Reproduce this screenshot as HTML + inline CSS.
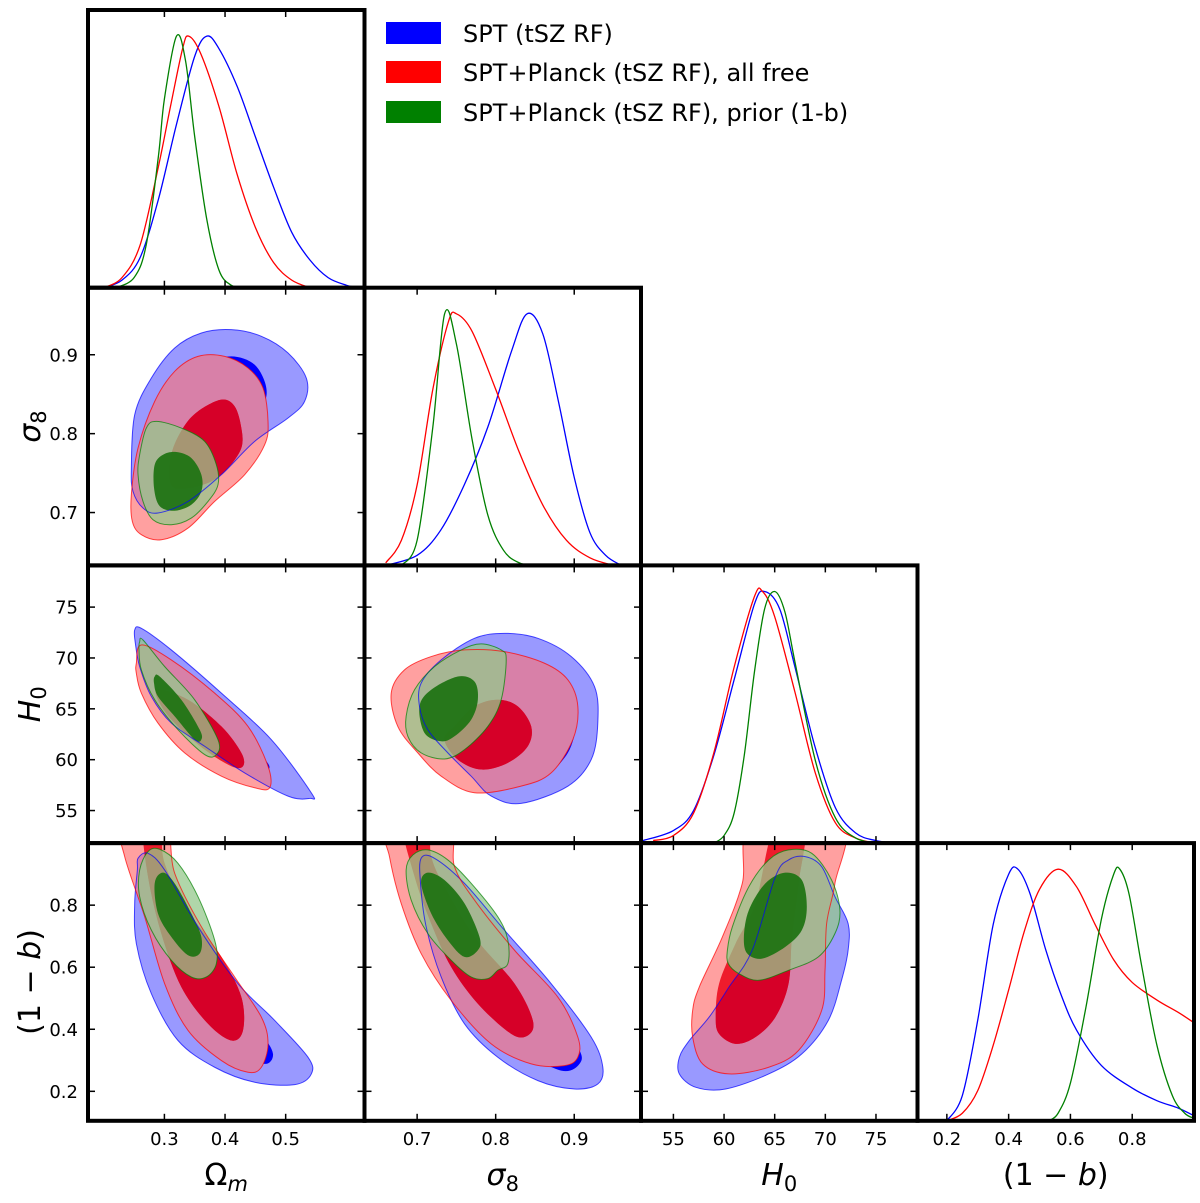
<!DOCTYPE html>
<html><head><meta charset="utf-8"><style>
html,body{margin:0;padding:0;background:#fff;}
svg{display:block;font-family:"DejaVu Sans","Liberation Sans",sans-serif;}
</style></head><body>
<svg id="fig" width="1200" height="1203" viewBox="0 0 1200 1203" xmlns="http://www.w3.org/2000/svg">
<g>
<rect x="386" y="22" width="55" height="22" fill="#0000ff"/>
<text x="463" y="42" font-size="24">SPT (tSZ RF)</text>
<rect x="386" y="61" width="55" height="22" fill="#ff0000"/>
<text x="463" y="81" font-size="24">SPT+Planck (tSZ RF), all free</text>
<rect x="386" y="101" width="55" height="22" fill="#008000"/>
<text x="463" y="121" font-size="24">SPT+Planck (tSZ RF), prior (1-b)</text>
</g>
</svg>
<script>
// ---- axis data ----
const params = ['om','s8','H0','b'];
const rangeOm = [0.174, 0.63];
const rangeS8 = [0.633, 0.985];
const rangeH0 = [51.8, 79.1];
const rangeB = [0.105, 1.0];
const ticksOm = [0.3, 0.4, 0.5];
const ticksS8 = [0.7, 0.8, 0.9];
const ticksH0 = [55, 60, 65, 70, 75];
const ticksB = [0.2, 0.4, 0.6, 0.8];
const tickLabelsOm = ['0.3','0.4','0.5'];
const tickLabelsS8 = ['0.7','0.8','0.9'];
const tickLabelsH0 = ['55','60','65','70','75'];
const tickLabelsB = ['0.2','0.4','0.6','0.8'];
const seriesColors = ['#0000ff','#ff0000','#008000'];
const seriesNames = ['spt','spt-planck-free','spt-planck-prior'];

// ---- 1D marginal densities [value, density] ----
const D_om_blue = [[0.20,0],[0.23,0.03],[0.26,0.12],[0.29,0.35],[0.32,0.65],[0.35,0.92],[0.37,1.0],[0.39,0.95],[0.42,0.8],[0.45,0.6],[0.48,0.4],[0.51,0.22],[0.54,0.11],[0.57,0.04],[0.60,0.01],[0.62,0]];
const D_om_red = [[0.20,0],[0.23,0.04],[0.26,0.17],[0.29,0.48],[0.31,0.72],[0.33,0.95],[0.34,1.0],[0.36,0.93],[0.39,0.72],[0.42,0.45],[0.45,0.24],[0.48,0.1],[0.51,0.03],[0.54,0]];
const D_om_green = [[0.22,0],[0.25,0.04],[0.27,0.17],[0.29,0.52],[0.30,0.75],[0.32,1.0],[0.335,0.9],[0.35,0.6],[0.37,0.27],[0.39,0.07],[0.41,0.01],[0.43,0]];
const D_s8_blue = [[0.66,0],[0.70,0.04],[0.73,0.14],[0.76,0.32],[0.79,0.55],[0.82,0.85],[0.84,1.0],[0.86,0.92],[0.88,0.65],[0.90,0.35],[0.92,0.13],[0.94,0.04],[0.96,0]];
const D_s8_red = [[0.66,0.01],[0.68,0.1],[0.70,0.32],[0.72,0.7],[0.74,0.97],[0.75,1.0],[0.77,0.93],[0.80,0.7],[0.83,0.45],[0.86,0.24],[0.89,0.1],[0.92,0.03],[0.95,0]];
const D_s8_green = [[0.68,0],[0.70,0.1],[0.72,0.55],[0.735,1.0],[0.75,0.88],[0.77,0.5],[0.79,0.2],[0.81,0.06],[0.83,0.01],[0.85,0]];
const D_H0_blue = [[52,0.01],[55,0.05],[57,0.13],[59,0.35],[61,0.65],[63,0.95],[64,1.0],[65.5,0.93],[67,0.7],[69,0.38],[71,0.14],[73,0.04],[75,0.01],[77,0]];
const D_H0_red = [[53,0.01],[55,0.03],[57,0.12],[59,0.36],[61,0.7],[63,0.98],[63.8,1.0],[65,0.9],[67,0.6],[69,0.28],[71,0.08],[73,0.02],[75,0]];
const D_H0_green = [[59,0],[60,0.03],[61,0.12],[62,0.35],[63,0.68],[64,0.93],[65,1.0],[66,0.92],[67,0.72],[69,0.33],[71,0.1],[73,0.02],[75,0]];
const D_b_blue = [[0.20,0],[0.25,0.1],[0.30,0.4],[0.35,0.78],[0.40,0.98],[0.43,1.0],[0.47,0.9],[0.52,0.68],[0.57,0.5],[0.62,0.36],[0.70,0.22],[0.80,0.13],[0.88,0.08],[0.95,0.05],[1.0,0.02]];
const D_b_red = [[0.20,0],[0.25,0.03],[0.30,0.12],[0.35,0.3],[0.40,0.52],[0.45,0.75],[0.50,0.92],[0.56,1.0],[0.62,0.93],[0.68,0.78],[0.74,0.64],[0.80,0.55],[0.88,0.48],[0.95,0.43],[1.0,0.39]];
const D_b_green = [[0.53,0],[0.56,0.03],[0.60,0.15],[0.65,0.45],[0.70,0.8],[0.74,0.98],[0.76,1.0],[0.79,0.9],[0.83,0.62],[0.88,0.3],[0.93,0.1],[0.97,0.03],[1.0,0.01]];

// ---- 2D contours [x, y] in data units ----
const C_om_s8_blue_o = [[0.2455,0.7564],[0.251,0.824],[0.2785,0.8705],[0.317,0.9086],[0.361,0.9276],[0.4104,0.9318],[0.4599,0.9234],[0.5039,0.9022],[0.534,0.8705],[0.5313,0.841],[0.5039,0.8198],[0.4489,0.7902],[0.394,0.748],[0.339,0.7141],[0.2894,0.6994],[0.2647,0.7057],[0.2482,0.7268]];
const C_om_s8_blue_i = [[0.339,0.8452],[0.3719,0.8874],[0.4104,0.898],[0.4489,0.8874],[0.4681,0.8579],[0.4599,0.8325],[0.4214,0.7987],[0.3829,0.7649],[0.3444,0.748],[0.3224,0.7649],[0.3224,0.8071]];
const C_om_s8_red_o = [[0.2455,0.7226],[0.2565,0.7818],[0.284,0.8409],[0.317,0.879],[0.3554,0.898],[0.3994,0.898],[0.4379,0.8832],[0.4626,0.8579],[0.4709,0.8156],[0.4654,0.786],[0.4324,0.748],[0.3829,0.7141],[0.339,0.6803],[0.295,0.6655],[0.262,0.6719],[0.2471,0.6888]];
const C_om_s8_red_i = [[0.3307,0.8071],[0.3554,0.8283],[0.3939,0.8431],[0.4159,0.8346],[0.4269,0.8071],[0.4269,0.7818],[0.4049,0.7564],[0.3774,0.7395],[0.339,0.7311],[0.3114,0.7353],[0.3114,0.7733]];
const C_om_s8_green_o = [[0.2592,0.7733],[0.2702,0.8071],[0.2867,0.8156],[0.3279,0.8071],[0.3664,0.7902],[0.3857,0.7606],[0.3884,0.7353],[0.3719,0.7141],[0.3444,0.693],[0.3114,0.6846],[0.2812,0.6909],[0.2647,0.7141],[0.2565,0.748]];
const C_om_s8_green_i = [[0.284,0.7606],[0.2977,0.7733],[0.3197,0.7767],[0.3444,0.7691],[0.3609,0.748],[0.3609,0.7268],[0.3444,0.7099],[0.317,0.7023],[0.2922,0.7081],[0.2829,0.7311]];

const C_om_H0_blue_o = [[0.251,72.75],[0.262,72.91],[0.3114,70.79],[0.394,66.54],[0.4764,61.97],[0.5423,56.74],[0.5396,56.19],[0.5039,56.42],[0.4324,58.7],[0.3664,61.32],[0.3114,63.6],[0.2785,66.21],[0.2592,69.15],[0.2521,71.44]];
const C_om_H0_blue_i = [[0.284,68.18],[0.339,65.89],[0.4049,62.95],[0.4654,60.01],[0.4709,59.03],[0.4489,59.36],[0.394,61.32],[0.3334,63.6],[0.2894,65.89],[0.2812,67.52]];
const C_om_H0_red_o = [[0.2537,69.48],[0.262,71.28],[0.3114,69.81],[0.3829,66.54],[0.4379,63.27],[0.4709,59.36],[0.4736,57.24],[0.4489,57.24],[0.394,58.38],[0.3334,60.67],[0.2894,63.6],[0.262,66.54],[0.2537,68.5]];
const C_om_H0_red_i = [[0.2894,66.87],[0.339,65.89],[0.394,63.27],[0.4269,60.67],[0.4296,59.36],[0.4104,59.36],[0.3664,60.99],[0.317,63.6],[0.2922,65.56]];
const C_om_H0_green_o = [[0.2592,71.6],[0.2647,71.77],[0.3004,69.16],[0.3499,65.89],[0.3884,61.97],[0.3857,60.5],[0.3664,60.5],[0.3224,62.95],[0.284,65.89],[0.262,68.83],[0.2581,70.79]];
const C_om_H0_green_i = [[0.284,68.18],[0.2922,68.18],[0.3279,65.89],[0.3582,62.95],[0.3609,61.97],[0.3499,61.97],[0.317,64.26],[0.2894,66.21],[0.2829,67.52]];

const C_s8_H0_blue_o = [[0.7051,67.52],[0.7306,69.81],[0.773,71.93],[0.8112,72.42],[0.8537,71.93],[0.8961,70.14],[0.9258,67.19],[0.93,63.6],[0.9216,60.01],[0.8919,57.4],[0.8324,55.7],[0.7943,56.42],[0.7688,58.38],[0.7391,60.67],[0.7136,62.95],[0.703,65.24]];
const C_s8_H0_blue_i = [[0.7476,64.91],[0.773,67.19],[0.824,68.34],[0.8706,68.18],[0.9003,65.89],[0.9025,63.6],[0.8919,60.67],[0.8622,58.55],[0.8155,58.38],[0.773,60.67],[0.7497,62.95]];
const C_s8_H0_red_o = [[0.667,66.54],[0.6839,68.83],[0.7179,70.14],[0.7603,70.79],[0.8112,70.62],[0.8622,69.48],[0.8919,67.85],[0.9046,65.24],[0.8982,61.97],[0.8706,58.7],[0.8324,57.4],[0.773,56.75],[0.7306,58.38],[0.7009,60.67],[0.6754,63.27]];
const C_s8_H0_red_i = [[0.7348,61.97],[0.7476,63.27],[0.773,65.24],[0.8027,65.89],[0.8282,65.24],[0.8452,63.27],[0.8409,61.32],[0.8155,59.69],[0.7815,59.03],[0.7518,60.01]];
const C_s8_H0_green_o = [[0.686,64.26],[0.6967,66.87],[0.7221,69.15],[0.7561,70.79],[0.7815,71.38],[0.807,70.79],[0.8134,69.81],[0.807,65.89],[0.79,63.27],[0.7603,60.99],[0.7348,60.07],[0.7051,60.67],[0.6882,62.3]];
const C_s8_H0_green_i = [[0.703,65.24],[0.7179,66.87],[0.7518,68.18],[0.773,67.69],[0.7773,65.89],[0.7688,63.93],[0.7476,62.3],[0.7306,61.81],[0.7094,62.63]];

const C_om_b_blue_o = [[0.2565,0.951],[0.273,0.9672],[0.3004,0.9134],[0.3554,0.7302],[0.4214,0.547],[0.4819,0.4284],[0.5368,0.3099],[0.5423,0.256],[0.5149,0.2216],[0.4489,0.2291],[0.3829,0.2776],[0.3224,0.3638],[0.2785,0.5147],[0.2537,0.6763],[0.251,0.8056],[0.2554,0.9134]];
const C_om_b_blue_i = [[0.284,0.8379],[0.317,0.7841],[0.3554,0.6547],[0.4049,0.5147],[0.4599,0.3853],[0.4791,0.3207],[0.4654,0.2884],[0.4269,0.3315],[0.3609,0.4392],[0.3059,0.5901],[0.2812,0.7302]];
const C_om_b_red_o = [[0.229,1.064],[0.3004,1.064],[0.317,0.9026],[0.361,0.7302],[0.4159,0.5685],[0.4599,0.4392],[0.4709,0.353],[0.4599,0.2776],[0.4379,0.2614],[0.394,0.2991],[0.339,0.3961],[0.3004,0.547],[0.2675,0.7625],[0.2345,0.9565]];
const C_om_b_red_i = [[0.2647,1.064],[0.2922,1.064],[0.3004,0.9349],[0.339,0.784],[0.394,0.6332],[0.4269,0.5039],[0.4296,0.3961],[0.4104,0.3638],[0.3719,0.4177],[0.3279,0.5362],[0.2949,0.7086],[0.273,0.8918]];
const C_om_b_green_o = [[0.2592,0.9134],[0.273,0.9726],[0.2922,0.9802],[0.3224,0.9349],[0.3554,0.8272],[0.3829,0.6871],[0.3857,0.6116],[0.3692,0.5685],[0.3444,0.5685],[0.3114,0.6224],[0.2785,0.7194],[0.2592,0.8272]];
const C_om_b_green_i = [[0.284,0.8703],[0.2977,0.9047],[0.3169,0.8703],[0.3444,0.7733],[0.3609,0.6978],[0.3582,0.644],[0.339,0.6386],[0.3114,0.6978],[0.2894,0.7733]];

const C_s8_b_blue_o = [[0.7051,0.9511],[0.7221,0.9511],[0.7603,0.8703],[0.8112,0.7194],[0.8706,0.547],[0.9216,0.3746],[0.9364,0.2776],[0.93,0.2237],[0.9003,0.2075],[0.8537,0.2345],[0.8027,0.3099],[0.7603,0.4177],[0.7306,0.5685],[0.7115,0.7302],[0.7043,0.8703]];
const C_s8_b_blue_i = [[0.7179,0.881],[0.7518,0.8164],[0.8027,0.644],[0.8622,0.4823],[0.9046,0.3422],[0.9067,0.2884],[0.8834,0.2668],[0.8367,0.3315],[0.7858,0.4608],[0.7433,0.6224],[0.716,0.7625]];
const C_s8_b_red_o = [[0.6606,1.064],[0.7391,1.064],[0.7476,0.9241],[0.773,0.8164],[0.824,0.6547],[0.8791,0.5039],[0.9046,0.3746],[0.9046,0.3099],[0.8876,0.283],[0.8452,0.2884],[0.7943,0.353],[0.7433,0.4931],[0.7051,0.644],[0.6797,0.8056],[0.6648,0.9565]];
const C_s8_b_red_i = [[0.6818,1.064],[0.7136,1.064],[0.7179,0.9565],[0.7348,0.8595],[0.773,0.6978],[0.824,0.547],[0.8473,0.4284],[0.8409,0.38],[0.8197,0.3853],[0.7773,0.4823],[0.7433,0.6009],[0.7179,0.741],[0.6967,0.8918]];
const C_s8_b_green_o = [[0.686,0.9134],[0.6945,0.9618],[0.7136,0.978],[0.7391,0.9457],[0.7688,0.8703],[0.8027,0.7625],[0.8155,0.6871],[0.8155,0.6116],[0.8027,0.5901],[0.79,0.5631],[0.7688,0.5685],[0.7433,0.6224],[0.7136,0.7086],[0.6924,0.8164]];
const C_s8_b_green_i = [[0.7051,0.8703],[0.7136,0.9047],[0.7348,0.881],[0.7603,0.8056],[0.7794,0.6978],[0.7773,0.6547],[0.7603,0.6332],[0.7391,0.6871],[0.7179,0.7733]];

const C_H0_b_blue_o = [[55.59,0.3099],[56.57,0.3638],[58.53,0.4392],[60.49,0.5362],[62.78,0.6547],[65.07,0.8918],[66.37,0.9457],[68.01,0.9565],[69.64,0.9241],[70.95,0.8272],[72.25,0.741],[72.25,0.6547],[71.6,0.5578],[70.29,0.4284],[67.68,0.3207],[64.41,0.256],[60.16,0.2075],[57.22,0.2129],[55.59,0.256]];
const C_H0_b_blue_i = [[58.2,0.2884],[58.53,0.353],[60.49,0.4823],[63.1,0.6009],[66.05,0.6763],[67.68,0.6547],[68.33,0.5685],[67.35,0.4608],[65.07,0.3746],[61.8,0.3099],[59.18,0.2722]];
const C_H0_b_red_o = [[56.9,0.4608],[57.55,0.5362],[59.84,0.6978],[61.8,0.8703],[62.78,1.064],[71.6,1.064],[70.95,0.8703],[70.13,0.741],[69.97,0.5901],[69.64,0.4608],[67.35,0.3315],[64.41,0.2776],[60.49,0.2561],[57.88,0.2884],[56.9,0.3746]];
const C_H0_b_red_i = [[59.18,0.4392],[59.51,0.547],[61.14,0.6763],[63.1,0.8056],[65.07,1.064],[68.01,1.064],[67.35,0.8703],[66.7,0.6978],[66.37,0.547],[65.07,0.4392],[63.1,0.3746],[61.14,0.353],[59.51,0.3853]];
const C_H0_b_green_o = [[60.33,0.6547],[60.82,0.7302],[62.45,0.8595],[64.41,0.9457],[66.37,0.978],[68.66,0.9672],[70.62,0.881],[71.44,0.784],[70.95,0.7086],[69.31,0.6332],[66.37,0.5901],[63.43,0.5578],[61.47,0.5793],[60.42,0.6116]];
const C_H0_b_green_i = [[61.96,0.6978],[62.45,0.784],[64.08,0.8703],[66.05,0.9047],[67.68,0.881],[68.17,0.7948],[67.68,0.7194],[66.05,0.6655],[63.76,0.6278],[62.29,0.644]];

// ---- layout ----
const L0 = 88, T0 = 10, W = 276.5, H = 277.7;
const ranges = {om: rangeOm, s8: rangeS8, H0: rangeH0, b: rangeB};
const ticks = {om: ticksOm, s8: ticksS8, H0: ticksH0, b: ticksB};
const tickLabels = {om: tickLabelsOm, s8: tickLabelsS8, H0: tickLabelsH0, b: tickLabelsB};
const NS = 'http://www.w3.org/2000/svg';
const svg = document.getElementById('fig');

function xScale(p, v){ const i = params.indexOf(p); const r = ranges[p]; return L0 + i*W + (v - r[0])/(r[1]-r[0])*W; }
function yScale(p, v, row){ const r = ranges[p]; return T0 + (row+1)*H - (v - r[0])/(r[1]-r[0])*H; }
function mk(tag, attrs){ const e = document.createElementNS(NS, tag); for (const k in attrs) e.setAttribute(k, attrs[k]); return e; }

function closedPath(pts){
  const n = pts.length; let d = 'M' + pts[0][0].toFixed(2) + ',' + pts[0][1].toFixed(2);
  for (let i = 0; i < n; i++){
    const p0 = pts[(i-1+n)%n], p1 = pts[i], p2 = pts[(i+1)%n], p3 = pts[(i+2)%n];
    const c1 = [p1[0]+(p2[0]-p0[0])/6, p1[1]+(p2[1]-p0[1])/6];
    const c2 = [p2[0]-(p3[0]-p1[0])/6, p2[1]-(p3[1]-p1[1])/6];
    d += 'C' + c1[0].toFixed(2)+','+c1[1].toFixed(2)+' '+c2[0].toFixed(2)+','+c2[1].toFixed(2)+' '+p2[0].toFixed(2)+','+p2[1].toFixed(2);
  }
  return d + 'Z';
}
function openPath(pts){
  const n = pts.length; let d = 'M' + pts[0][0].toFixed(2) + ',' + pts[0][1].toFixed(2);
  for (let i = 0; i < n-1; i++){
    const p0 = pts[Math.max(i-1,0)], p1 = pts[i], p2 = pts[i+1], p3 = pts[Math.min(i+2,n-1)];
    const c1 = [p1[0]+(p2[0]-p0[0])/6, p1[1]+(p2[1]-p0[1])/6];
    const c2 = [p2[0]-(p3[0]-p1[0])/6, p2[1]-(p3[1]-p1[1])/6];
    d += 'C' + c1[0].toFixed(2)+','+c1[1].toFixed(2)+' '+c2[0].toFixed(2)+','+c2[1].toFixed(2)+' '+p2[0].toFixed(2)+','+p2[1].toFixed(2);
  }
  return d;
}

const defs = mk('defs', {});
svg.appendChild(defs);

const contourSets = [
  ['om','s8',[[C_om_s8_blue_o,C_om_s8_blue_i],[C_om_s8_red_o,C_om_s8_red_i],[C_om_s8_green_o,C_om_s8_green_i]]],
  ['om','H0',[[C_om_H0_blue_o,C_om_H0_blue_i],[C_om_H0_red_o,C_om_H0_red_i],[C_om_H0_green_o,C_om_H0_green_i]]],
  ['s8','H0',[[C_s8_H0_blue_o,C_s8_H0_blue_i],[C_s8_H0_red_o,C_s8_H0_red_i],[C_s8_H0_green_o,C_s8_H0_green_i]]],
  ['om','b',[[C_om_b_blue_o,C_om_b_blue_i],[C_om_b_red_o,C_om_b_red_i],[C_om_b_green_o,C_om_b_green_i]]],
  ['s8','b',[[C_s8_b_blue_o,C_s8_b_blue_i],[C_s8_b_red_o,C_s8_b_red_i],[C_s8_b_green_o,C_s8_b_green_i]]],
  ['H0','b',[[C_H0_b_blue_o,C_H0_b_blue_i],[C_H0_b_red_o,C_H0_b_red_i],[C_H0_b_green_o,C_H0_b_green_i]]]
];
const densitySets = [
  ['om',[D_om_blue,D_om_red,D_om_green]],
  ['s8',[D_s8_blue,D_s8_red,D_s8_green]],
  ['H0',[D_H0_blue,D_H0_red,D_H0_green]],
  ['b',[D_b_blue,D_b_red,D_b_green]]
];

function makeClip(id, col, row){
  const cp = mk('clipPath', {id: id});
  cp.appendChild(mk('rect', {x: L0+col*W, y: T0+row*H, width: W, height: H}));
  defs.appendChild(cp);
}

// 2D panels
contourSets.forEach(function(cs){
  const xp = cs[0], yp = cs[1], col = params.indexOf(xp), row = params.indexOf(yp);
  const cid = 'clip-' + xp + '-' + yp;
  makeClip(cid, col, row);
  const g = mk('g', {'clip-path': 'url(#' + cid + ')'});
  
  
  svg.appendChild(g);
  const P = cs[2].map(function(levels){
    return levels.map(function(arr){ return closedPath(arr.map(function(p){ return [xScale(xp,p[0]), yScale(yp,p[1],row)]; })); });
  });
  // clip for overlap with blue 95% region
  const bcid = 'blue-clip-' + xp + '-' + yp;
  const bcp = mk('clipPath', {id: bcid});
  bcp.appendChild(mk('path', {d: P[0][0]}));
  defs.appendChild(bcp);

  function add(d, fill, op, name, clip){
    const e = mk('path', {d: d, fill: fill, 'fill-opacity': op, stroke: 'none'});
    if (clip) e.setAttribute('clip-path', 'url(#' + clip + ')');
    
    
    g.appendChild(e);
  }
  add(P[0][0], '#0000ff', 0.4, 'spt-95-contour');
  add(P[0][1], '#0000ff', 1, 'spt-68-contour');
  add(P[1][0], '#ff6666', 0.62, 'spt-planck-free-95-contour');
  add(P[1][0], '#d880a8', 1, 'spt-planck-free-95-over-spt', bcid);
  add(P[1][1], '#ee1c2c', 1, 'spt-planck-free-68-contour');
  add(P[1][1], '#d60028', 1, 'spt-planck-free-68-over-spt', bcid);
  add(P[2][0], '#96c88c', 0.75, 'spt-planck-prior-95-contour');
  add(P[2][1], '#207414', 0.95, 'spt-planck-prior-68-contour');
  [0,1,2].forEach(function(s){
    const pl = mk('path', {d: P[s][0], fill: 'none', stroke: seriesColors[s], 'stroke-width': 1, 'stroke-opacity': 0.7});
    
    
    g.appendChild(pl);
  });
});

// 1D panels
densitySets.forEach(function(ds){
  const p = ds[0], i = params.indexOf(p);
  const cid = 'clip-1d-' + p;
  makeClip(cid, i, i);
  const g = mk('g', {'clip-path': 'url(#' + cid + ')'});
  
  
  svg.appendChild(g);
  const base = T0 + (i+1)*H, hh = H*0.906;
  ds[1].forEach(function(curve, s){
    const pts = curve.map(function(q){ return [xScale(p,q[0]), base - q[1]*hh]; });
    const pl = mk('path', {d: openPath(pts), fill: 'none', stroke: seriesColors[s], 'stroke-width': 1.3});
    
    
    g.appendChild(pl);
  });
});

// frames + ticks
for (let row = 0; row < 4; row++){
  for (let col = 0; col <= row; col++){
    const x0 = L0+col*W, y0 = T0+row*H;
    const xp = params[col], yp = params[row];
    const tg = mk('g', {stroke: '#000', 'stroke-width': 1.5});
    
    
    svg.appendChild(tg);
    ticks[xp].forEach(function(v){
      const x = xScale(xp, v);
      tg.appendChild(mk('line', {x1: x, y1: y0+H, x2: x, y2: y0+H-7}));
      tg.appendChild(mk('line', {x1: x, y1: y0, x2: x, y2: y0+7}));
    });
    if (col !== row){
      ticks[yp].forEach(function(v){
        const y = yScale(yp, v, row);
        tg.appendChild(mk('line', {x1: x0, y1: y, x2: x0+7, y2: y}));
        tg.appendChild(mk('line', {x1: x0+W, y1: y, x2: x0+W-7, y2: y}));
      });
    }
    const fr = mk('rect', {x: x0, y: y0, width: W, height: H, fill: 'none', stroke: '#000', 'stroke-width': 4});
    
    
    svg.appendChild(fr);
  }
}

// tick labels
params.forEach(function(p, col){
  ticks[p].forEach(function(v, k){
    const t = mk('text', {x: xScale(p, v), y: 1145, 'font-size': 18, 'text-anchor': 'middle'});
    t.textContent = tickLabels[p][k];
    
    
    svg.appendChild(t);
  });
});
[1,2,3].forEach(function(row){
  const p = params[row];
  ticks[p].forEach(function(v, k){
    const t = mk('text', {x: 78, y: yScale(p, v, row) + 6.5, 'font-size': 18, 'text-anchor': 'end'});
    t.textContent = tickLabels[p][k];
    
    
    svg.appendChild(t);
  });
});

// axis titles
function axisTitle(parts, x, y, rot, name){
  const t = mk('text', {x: x, y: y, 'font-size': 30, 'text-anchor': 'middle'});
  if (rot) t.setAttribute('transform', 'rotate(-90 ' + x + ' ' + y + ')');
  parts.forEach(function(pt){
    const s = mk('tspan', {});
    if (pt[1] === 'i') s.setAttribute('font-style', 'italic');
    if (pt[2]) { s.setAttribute('font-size', 21); s.setAttribute('dy', 6); }
    s.textContent = pt[0];
    t.appendChild(s);
  });
  
  
  svg.appendChild(t);
}
axisTitle([['Ω',''],['m','i',true]], L0+0.5*W, 1185, false, 'x-axis-title-omega-m');
axisTitle([['σ','i'],['8','',true]], L0+1.5*W, 1185, false, 'x-axis-title-sigma-8');
axisTitle([['H','i'],['0','',true]], L0+2.5*W, 1185, false, 'x-axis-title-h0');
axisTitle([['(1 − ',''],['b','i'],[')','']], L0+3.5*W, 1185, false, 'x-axis-title-1-minus-b');
axisTitle([['σ','i'],['8','',true]], 40, T0+1.5*H, true, 'y-axis-title-sigma-8');
axisTitle([['H','i'],['0','',true]], 40, T0+2.5*H, true, 'y-axis-title-h0');
axisTitle([['(1 − ',''],['b','i'],[')','']], 40, T0+3.5*H, true, 'y-axis-title-1-minus-b');
</script>
</body></html>
